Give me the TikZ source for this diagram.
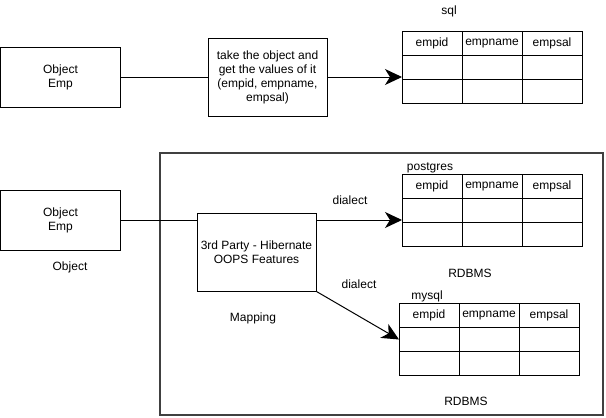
\documentclass[tikz,border=0pt]{standalone}
\usepackage{fontspec}
\setmainfont{Liberation Sans}
\usepackage{tikz}
\usetikzlibrary{arrows.meta}

\begin{document}
\begin{tikzpicture}[x=1pt,y=-1pt,font=\fontsize{12}{14}\selectfont]
      \newcommand{\emptable}[3]{
        \node[cell] (#1a) at ({#2+30},{#3+12.2}) {empid};
        \node[cell] (#1b) at ({#2+90},{#3+12.2}) {empname};
        \node[cell] (#1c) at ({#2+150},{#3+12.2}) {empsal};
        \node[cell] (#1d) at ({#2+30},{#3+36.5}) {};
        \node[cell] (#1e) at ({#2+90},{#3+36.5}) {};
        \node[cell] (#1f) at ({#2+150},{#3+36.5}) {};
        \node[cell] (#1g) at ({#2+30},{#3+60.8}) {};
        \node[cell] (#1h) at ({#2+90},{#3+60.8}) {};
        \node[cell] (#1i) at ({#2+150},{#3+60.8}) {};
      }
      \tikzstyle{box}   = [draw=black, line width=1pt, rectangle, align=center, inner sep=0pt]
      \tikzstyle{cell}  = [draw=black, line width=1pt, minimum width=60, minimum height=24.3, inner sep=0pt, outer sep=0pt]
      \tikzstyle{edge}  = [line width=1pt, draw=black]
      \tikzstyle{dedge} = [-{Stealth[length=17pt,width=16pt,inset=5pt]}, line width=1pt, draw=black]
      \tikzstyle{txt}   = [inner sep=0pt]

      \useasboundingbox (0,0) rectangle (606,418);

      \node[draw=black!75, line width=2.2pt, minimum width=443, minimum height=262] (frame) at (381.5,284) {};

      \node[box, minimum width=120, minimum height=60] (obj1) at (60.5,77) {Object\\Emp};
      \node[box, minimum width=119, minimum height=78] (take) at (267.5,77) {take the object and\\get the values of it\\(empid, empname,\\empsal)};
      \node[txt] (sqllbl) at (449,11) {sql};
      \emptable{sql}{402}{31}

      \node[box, minimum width=120, minimum height=60] (obj2) at (60.5,220) {Object\\Emp};
      \node[txt] (objlbl) at (70,267) {Object};
      \node[box, minimum width=119, minimum height=78] (hib) at (256.5,252) {3rd Party - Hibernate\\OOPS Features};
      \node[txt] (maplbl) at (253,318) {Mapping};

      \node[txt] (pglbl) at (430,168) {postgres};
      \emptable{pg}{402}{174}
      \node[txt] (rdbms1) at (470,273) {RDBMS};

      \node[txt] (mylbl) at (427,296) {mysql};
      \emptable{my}{399}{303}
      \node[txt] (rdbms2) at (466,401) {RDBMS};

      \node[txt] (dial1) at (350,200) {dialect};
      \node[txt] (dial2) at (359,284) {dialect};

      \draw[edge] (obj1)--(take);
      \draw[dedge] (take.east)--(take.east -| sqld.west);
      \draw[edge] (obj2.east)--(obj2.east -| hib.west);
      \draw[dedge] (hib.east |- obj2.east)--(obj2.east -| pgd.west);
      \draw[dedge] (hib.south east)--(myd.west);
\end{tikzpicture}
\end{document}
